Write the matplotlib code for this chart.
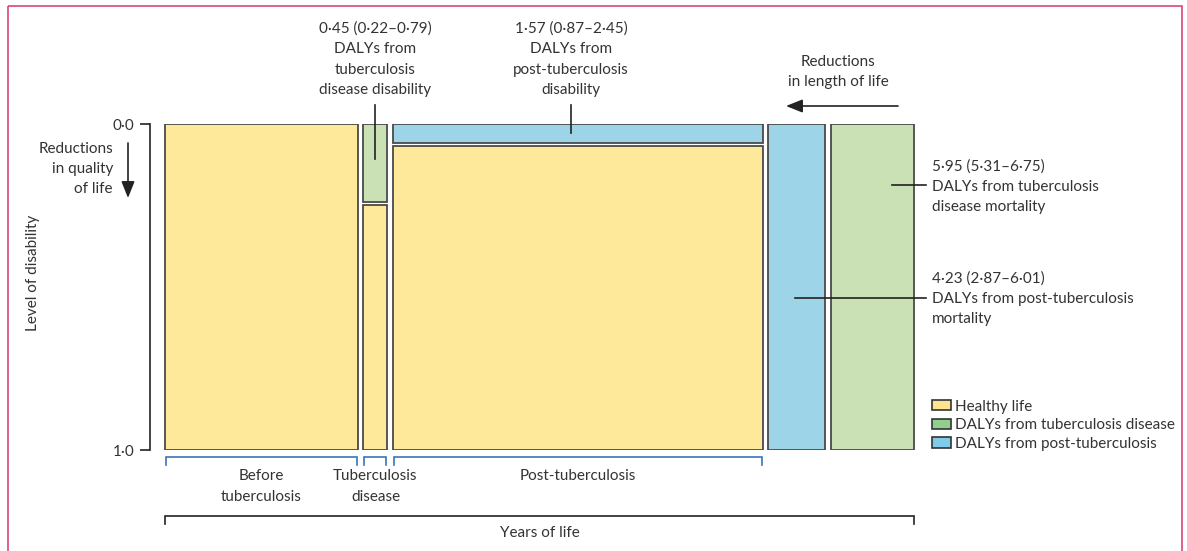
import matplotlib
matplotlib.use("Agg")
import matplotlib.pyplot as plt
from matplotlib.patches import Patch, Rectangle

# ---------------- data ----------------
phase_labels = ["Before\ntuberculosis", "Tuberculosis\ndisease", "Post-tuberculosis"]
phase_years = [193, 24, 370]            # width of each life phase
phase_disability = [0.0, 0.24, 0.058]   # level of disability in each phase
mortality_labels = ["Post-tuberculosis mortality", "Tuberculosis disease mortality"]
mortality_years = [57, 83]              # years of life lost
ytick_vals = [0.0, 1.0]
ytick_labels = ["0·0", "1·0"]
legend_labels = ["Healthy life", "DALYs from tuberculosis disease", "DALYs from post-tuberculosis"]
ann_tb_dis = "0·45 (0·22–0·79)\nDALYs from\ntuberculosis\ndisease disability"
ann_post_dis = "1·57 (0·87–2·45)\nDALYs from\npost-tuberculosis\ndisability"
ann_tb_mort = "5·95 (5·31–6·75)\nDALYs from tuberculosis\ndisease mortality"
ann_post_mort = "4·23 (2·87–6·01)\nDALYs from post-tuberculosis\nmortality"

# ---------------- style ----------------
FONT = "Lato"
FS = 11
LS = 1.58
TXT = "#333333"
EDGE = "#4a4a4a"
YELLOW = "#fde999"
GREEN = "#cae0b5"
BLUE = "#9dd4e7"
LEG_YELLOW = "#fde48e"
LEG_GREEN = "#92cf8e"
LEG_BLUE = "#80cbea"
BRACKET_BLUE = "#3a74b8"
PINK = "#d9457a"
GAP = 5.5
VGAP = 0.009
W, H = 1187, 551

plt.rcParams["font.family"] = [FONT, "DejaVu Sans"]
fig = plt.figure(figsize=(W / 100, H / 100), dpi=100)

# main axes: x in years (pixel-scaled), y = level of disability
x0p, x1p, y0p, y1p = 150, 915, 124, 450
ax = fig.add_axes([x0p / W, (H - y1p) / H, (x1p - x0p) / W, (y1p - y0p) / H])
ax.set_xlim(-15, x1p - x0p - 15)
ax.set_ylim(1, 0)

phase_colors = [None, GREEN, BLUE]
left = 0.0
phase_left = []
for yrs, dw, col in zip(phase_years, phase_disability, phase_colors):
    phase_left.append(left)
    if dw > 0:
        ax.bar(left, dw, width=yrs, bottom=0, align="edge", color=col,
               edgecolor=EDGE, linewidth=1.3)
        ax.bar(left, 1 - dw - VGAP, width=yrs, bottom=dw + VGAP, align="edge",
               color=YELLOW, edgecolor=EDGE, linewidth=1.3)
    else:
        ax.bar(left, 1, width=yrs, bottom=0, align="edge", color=YELLOW,
               edgecolor=EDGE, linewidth=1.3)
    left += yrs + GAP
mort_colors = [BLUE, GREEN]
mort_left = []
for yrs, col in zip(mortality_years, mort_colors):
    mort_left.append(left)
    ax.bar(left, 1, width=yrs, bottom=0, align="edge", color=col,
           edgecolor=EDGE, linewidth=1.3)
    left += yrs + GAP
total_end = left - GAP

for s in ["top", "right", "bottom"]:
    ax.spines[s].set_visible(False)
ax.spines["left"].set_color("#222222")
ax.spines["left"].set_linewidth(1.2)
ax.set_xticks([])
ax.set_yticks(ytick_vals)
ax.set_yticklabels(ytick_labels, fontsize=FS, color=TXT)
ax.tick_params(axis="y", length=7, width=1.2, color="#222222", pad=4)
ax.patch.set_alpha(0)

# helper: pixel y -> data y
def dy(yp):
    return (yp - y0p) / (y1p - y0p)

# brackets under phases
for l, yrs in zip(phase_left, phase_years):
    ax.plot([l + 1, l + 1, l + yrs - 1, l + yrs - 1], [dy(465), dy(457), dy(457), dy(465)],
            color=BRACKET_BLUE, lw=1.2, clip_on=False, solid_joinstyle="miter")
for l, yrs, lab in zip(phase_left, phase_years, phase_labels):
    for i, line in enumerate(lab.split("\n")):
        ax.text(l + yrs / 2, dy(476 + 21 * i), line, ha="center", va="center",
                fontsize=FS, color=TXT, clip_on=False)
# years of life bracket
ax.plot([0, 0, total_end, total_end], [dy(524), dy(516), dy(516), dy(524)],
        color="#222222", lw=1.2, clip_on=False, solid_joinstyle="miter")
ax.text(total_end / 2, dy(533), "Years of life", ha="center", va="center",
        fontsize=FS, color=TXT, clip_on=False)

# leader lines
tb_c = phase_left[1] + phase_years[1] / 2
ax.plot([tb_c, tb_c], [dy(105), dy(159)], color="#222222", lw=1.2, clip_on=False)
ax.text(tb_c, dy(59.5), ann_tb_dis, ha="center", va="center", fontsize=FS,
        color=TXT, linespacing=LS, clip_on=False)
post_c = phase_left[2] + phase_years[2] / 2 - 7
ax.plot([post_c, post_c], [dy(105), dy(133)], color="#222222", lw=1.2, clip_on=False)
ax.text(post_c, dy(59.5), ann_post_dis, ha="center", va="center", fontsize=FS,
        color=TXT, linespacing=LS, clip_on=False)

label_x = total_end + 18
ax.plot([mort_left[1] + 61, total_end + 12], [dy(185), dy(185)], color="#222222",
        lw=1.2, clip_on=False)
ax.text(label_x, dy(186.5), ann_tb_mort, ha="left", va="center", fontsize=FS,
        color=TXT, linespacing=LS, clip_on=False)
ax.plot([mort_left[0] + 27, total_end + 12], [dy(298), dy(298)], color="#222222",
        lw=1.2, clip_on=False)
ax.text(label_x, dy(298.5), ann_post_mort, ha="left", va="center", fontsize=FS,
        color=TXT, linespacing=LS, clip_on=False)

# overlay for free text / arrows / border (pixel coordinates)
ov = fig.add_axes([0, 0, 1, 1], zorder=-1)
ov.set_xlim(0, W)
ov.set_ylim(H, 0)
ov.axis("off")
ov.add_patch(Rectangle((8, 6), 1174, 560, fill=False, edgecolor=PINK, lw=1.2,
                       clip_on=False))

ov.text(838, 72, "Reductions\nin length of life", ha="center", va="center",
        fontsize=FS, color=TXT, linespacing=LS)
ov.annotate("", xy=(786, 106), xytext=(898, 106),
            arrowprops=dict(arrowstyle="-|>,head_length=1.0,head_width=0.4",
                            color="#222222", lw=1.2, shrinkA=0, shrinkB=0))
ov.text(113, 169, "Reductions\nin quality\nof life", ha="right", va="center",
        fontsize=FS, color=TXT, linespacing=LS)
ov.annotate("", xy=(128, 198), xytext=(128, 143),
            arrowprops=dict(arrowstyle="-|>,head_length=1.0,head_width=0.4",
                            color="#222222", lw=1.2, shrinkA=0, shrinkB=0))
ov.text(33, 273, "Level of disability", ha="center", va="center", rotation=90,
        fontsize=FS, color=TXT)

handles = [Patch(facecolor=c, edgecolor="#333333", linewidth=1.2)
           for c in [LEG_YELLOW, LEG_GREEN, LEG_BLUE]]
fig.legend(handles, legend_labels, loc="upper left",
           bbox_to_anchor=(924 / W, 1 - 392 / H), frameon=False, fontsize=FS,
           handlelength=1.25, handleheight=0.65, handletextpad=0.3,
           labelspacing=0.3, borderpad=0, labelcolor=TXT)

fig.savefig("out.png", dpi=100)
